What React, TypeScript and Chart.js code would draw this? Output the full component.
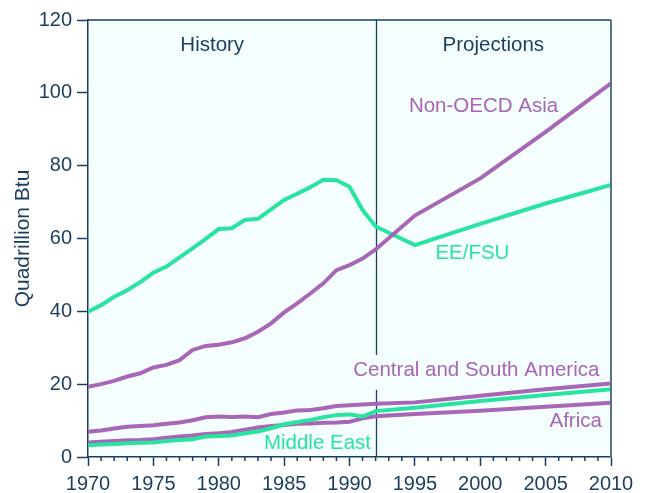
import React, { useEffect, useRef } from "react";
import { Chart, registerables } from "chart.js";
Chart.register(...registerables);

const years = [1970, 1971, 1972, 1973, 1974, 1975, 1976, 1977, 1978, 1979, 1980, 1981, 1982, 1983, 1984, 1985, 1986, 1987, 1988, 1989, 1990, 1991, 1992, 1995, 2000, 2005, 2010];
const nonOecdAsia = [19.3, 20.0, 20.9, 22.1, 23.0, 24.6, 25.3, 26.6, 29.4, 30.5, 30.8, 31.5, 32.6, 34.4, 36.7, 39.7, 42.2, 44.9, 47.7, 51.3, 52.7, 54.5, 57.0, 66.3, 76.5, 89.3, 102.6];
const eeFsu = [39.9, 41.7, 44.0, 45.8, 48.0, 50.6, 52.3, 54.8, 57.3, 59.9, 62.6, 62.8, 65.1, 65.4, 68.0, 70.6, 72.3, 74.1, 76.1, 76.0, 74.2, 67.8, 63.3, 58.2, 64.0, 69.6, 74.7];
const csAmerica = [6.9, 7.3, 7.8, 8.3, 8.5, 8.7, 9.1, 9.5, 10.1, 10.9, 11.1, 11.0, 11.1, 10.9, 11.8, 12.2, 12.8, 12.9, 13.4, 14.0, 14.2, 14.4, 14.6, 15.0, 16.8, 18.6, 20.2];
const africa = [4.0, 4.2, 4.4, 4.6, 4.7, 4.9, 5.3, 5.6, 5.9, 6.3, 6.5, 6.9, 7.5, 8.1, 8.5, 8.8, 9.1, 9.2, 9.4, 9.5, 9.7, 10.6, 11.2, 11.8, 12.7, 13.8, 14.9];
const middleEast = [3.2, 3.4, 3.6, 3.8, 3.9, 4.0, 4.4, 4.7, 4.9, 5.6, 5.8, 5.9, 6.5, 7.0, 7.9, 9.0, 9.6, 10.2, 10.9, 11.5, 11.7, 11.1, 12.6, 13.5, 15.4, 17.0, 18.6];

const xMin = 1970;
const xMax = 2010;
const yMin = 0;
const yMax = 120;
const dividerYear = 1992;

const NAVY = "#1b3d5e";
const GREEN = "#2ae3a0";
const PURPLE = "#a766b6";
const BG = "#f4fefe";
const RIGHT_BORDER = "#557489";
const FONT = "'Liberation Sans', Arial, Helvetica, sans-serif";
const TEXT_SIZE = 20.5;
const TICK_SIZE = 20;
const TITLE_SIZE = 21;

const labels = [
  { text: "History", x: 1979.5, y: 113, color: NAVY, box: false },
  { text: "Projections", x: 2001, y: 113, color: NAVY, box: false },
  { text: "Non-OECD Asia", x: 2000.25, y: 96.4, color: PURPLE, box: false },
  { text: "EE/FSU", x: 1999.4, y: 56.0, color: GREEN, box: false },
  { text: "Central and South America", x: 1999.7, y: 23.9, color: PURPLE, box: true },
  { text: "Africa", x: 2007.3, y: 9.9, color: PURPLE, box: false },
  { text: "Middle East", x: 1987.55, y: 3.7, color: GREEN, box: false },
];

const toPoints = (vals: number[]) => vals.map((v, i) => ({ x: years[i], y: v }));

const decorPlugin = {
  id: "decor",
  beforeDraw(chart: any) {
    const { ctx, chartArea } = chart;
    ctx.save();
    ctx.fillStyle = BG;
    ctx.fillRect(chartArea.left, chartArea.top, chartArea.right - chartArea.left, chartArea.bottom - chartArea.top);
    ctx.restore();
  },
  beforeDatasetsDraw(chart: any) {
    const { ctx, chartArea, scales } = chart;
    const xs = scales.x;
    const ys = scales.y;
    ctx.save();
    const dx = Math.round(xs.getPixelForValue(dividerYear)) + 0.5;
    ctx.strokeStyle = NAVY;
    ctx.lineWidth = 1.3;
    ctx.beginPath();
    ctx.moveTo(dx, chartArea.top);
    ctx.lineTo(dx, chartArea.bottom);
    ctx.stroke();
    ctx.font = `${TEXT_SIZE}px ${FONT}`;
    for (const l of labels) {
      if (!l.box) continue;
      const w = ctx.measureText(l.text).width;
      const cx = xs.getPixelForValue(l.x);
      const cy = ys.getPixelForValue(l.y);
      ctx.fillStyle = BG;
      ctx.fillRect(cx - w / 2 - 6, cy - 15, w + 12, 35);
    }
    ctx.restore();
  },
  afterDatasetsDraw(chart: any) {
    const { ctx, scales } = chart;
    const xs = scales.x;
    const ys = scales.y;
    ctx.save();
    ctx.font = `${TEXT_SIZE}px ${FONT}`;
    ctx.textAlign = "center";
    ctx.textBaseline = "middle";
    for (const l of labels) {
      ctx.fillStyle = l.color;
      ctx.fillText(l.text, xs.getPixelForValue(l.x), ys.getPixelForValue(l.y));
    }
    ctx.restore();
  },
  afterDraw(chart: any) {
    const { ctx, chartArea, scales } = chart;
    const xs = scales.x;
    ctx.save();
    ctx.strokeStyle = NAVY;
    ctx.lineWidth = 1.5;
    ctx.beginPath();
    ctx.moveTo(chartArea.left, chartArea.top);
    ctx.lineTo(chartArea.right, chartArea.top);
    ctx.stroke();
    ctx.strokeStyle = RIGHT_BORDER;
    ctx.lineWidth = 2;
    ctx.beginPath();
    ctx.moveTo(chartArea.right, chartArea.top);
    ctx.lineTo(chartArea.right, chartArea.bottom);
    ctx.stroke();
    ctx.strokeStyle = NAVY;
    ctx.lineWidth = 1.5;
    for (let yr = xMin; yr <= xMax; yr++) {
      if (yr % 5 === 0) continue;
      const px = xs.getPixelForValue(yr);
      ctx.beginPath();
      ctx.moveTo(px, chartArea.bottom);
      ctx.lineTo(px, chartArea.bottom + 4);
      ctx.stroke();
    }
    ctx.restore();
  },
};

export default function App() {
  const ref = useRef<HTMLCanvasElement | null>(null);
  useEffect(() => {
    if (!ref.current) return;
    const mk = (label: string, vals: number[], color: string) => ({
      label,
      data: toPoints(vals),
      borderColor: color,
      backgroundColor: color,
      borderWidth: 4,
      pointRadius: 0,
      tension: 0,
      fill: false,
    });
    const chart = new Chart(ref.current, {
      type: "line",
      data: {
        datasets: [
          mk("Non-OECD Asia", nonOecdAsia, PURPLE),
          mk("EE/FSU", eeFsu, GREEN),
          mk("Central and South America", csAmerica, PURPLE),
          mk("Middle East", middleEast, GREEN),
          mk("Africa", africa, PURPLE),
        ],
      },
      options: {
        responsive: false,
        animation: false,
        layout: { padding: { left: 0, right: 34, top: 20, bottom: 0 } },
        plugins: { legend: { display: false }, tooltip: { enabled: false } },
        scales: {
          x: {
            type: "linear",
            min: xMin,
            max: xMax,
            afterFit: (s: any) => { s.height = 36; },
            border: { display: true, color: NAVY, width: 1.5 },
            grid: { drawOnChartArea: false, drawTicks: true, tickLength: 9, tickColor: NAVY, tickWidth: 1.5 },
            ticks: {
              stepSize: 5,
              autoSkip: false,
              maxRotation: 0,
              padding: 6,
              color: NAVY,
              font: { family: FONT, size: TICK_SIZE },
              callback: (v: any) => String(v),
            },
          },
          y: {
            min: yMin,
            max: yMax,
            afterFit: (s: any) => { s.width = 88; },
            border: { display: true, color: NAVY, width: 1.5 },
            grid: { drawOnChartArea: false, drawTicks: true, tickLength: 11, tickColor: NAVY, tickWidth: 1.5 },
            ticks: {
              stepSize: 20,
              padding: 5,
              color: NAVY,
              font: { family: FONT, size: TICK_SIZE },
              callback: (v: any) => String(v),
            },
            title: {
              display: true,
              text: "Quadrillion Btu",
              color: NAVY,
              font: { family: FONT, size: TITLE_SIZE },
              padding: { top: 11, bottom: 0 },
            },
          },
        },
      },
      plugins: [decorPlugin],
    });
    return () => chart.destroy();
  }, []);
  return (
    <div style={{ position: "absolute", left: 0, top: 0, width: 645, height: 493, background: "#fff" }}>
      <canvas ref={ref} width={645} height={493} style={{ display: "block" }} />
    </div>
  );
}
